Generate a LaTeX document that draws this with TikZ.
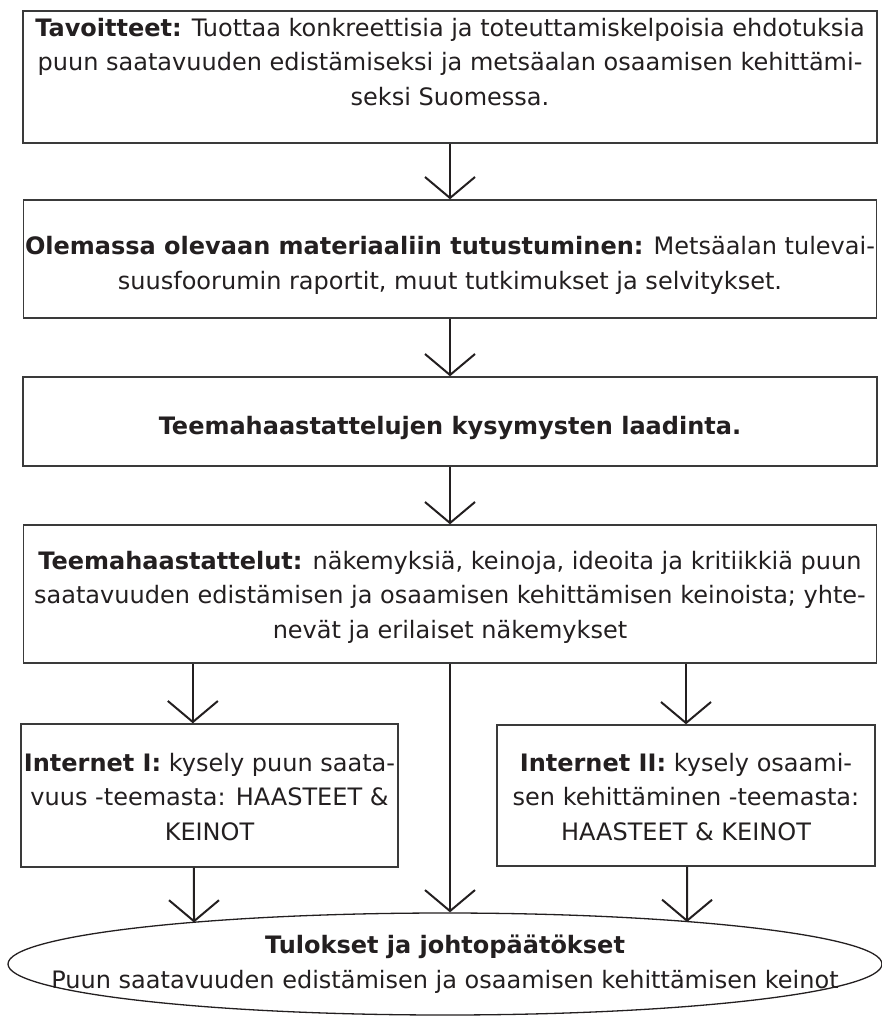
\documentclass[tikz,border=0pt]{standalone}
\usepackage{fontspec}
\setmainfont{DejaVu Sans}
\usetikzlibrary{arrows.meta,shapes.geometric,calc}
\definecolor{ink}{HTML}{231F20}
\definecolor{frame}{HTML}{3A3A3A}
\begin{document}
\begin{tikzpicture}[x=1pt,y=-1pt,
  box/.style={draw=frame,line width=1.4pt,rectangle,inner sep=0pt,fill=white},
  txt/.style={align=center,inner sep=0pt,text=ink,font=\fontsize{24}{34.5}\selectfont,anchor=base},
  arr/.style={draw=ink,line width=2pt,-{Straight Barb[length=21pt,width=50pt,line width=2pt]}}
]
\useasboundingbox (0,0) rectangle (882,1018);
% boxes
\node[box,minimum width=854pt,minimum height=132pt] (b1) at (450,77) {};
\node[box,minimum width=853pt,minimum height=118pt] (b2) at (450,259) {};
\node[box,minimum width=854pt,minimum height=89pt] (b3) at (450,421.5) {};
\node[box,minimum width=853pt,minimum height=138pt] (b4) at (450,594) {};
\node[box,minimum width=377pt,minimum height=143pt] (i1) at (209.5,795.5) {};
\node[box,minimum width=378pt,minimum height=141pt] (i2) at (686,795.5) {};
\node[draw=ink,line width=1.3pt,ellipse,inner sep=0pt,minimum width=874pt,minimum height=102pt] (res) at (445,964) {};
% texts (anchor base = last line's baseline)
\node[txt] (t1) at (450,105) {\textbf{Tavoitteet:} Tuottaa konkreettisia ja toteuttamiskelpoisia ehdotuksia\\ puun saatavuuden edistämiseksi ja metsäalan osaamisen kehittämi-\\ seksi Suomessa.};
\node[txt] (t2) at (450,289) {\textbf{Olemassa olevaan materiaaliin tutustuminen:} Metsäalan tulevai-\\ suusfoorumin raportit, muut tutkimukset ja selvitykset.};
\node[txt] (t3) at (450,434) {\textbf{Teemahaastattelujen kysymysten laadinta.}};
\node[txt] (t4) at (450,638) {\textbf{Teemahaastattelut:} näkemyksiä, keinoja, ideoita ja kritiikkiä puun\\ saatavuuden edistämisen ja osaamisen kehittämisen keinoista; yhte-\\ nevät ja erilaiset näkemykset};
\node[txt] (t5) at (209.5,840) {\textbf{Internet I:} kysely puun saata-\\ vuus -teemasta: HAASTEET \&\\ KEINOT};
\node[txt] (t6) at (686,840) {\textbf{Internet II:} kysely osaami-\\ sen kehittäminen -teemasta:\\ HAASTEET \& KEINOT};
\node[txt] (t7) at (445,988) {\textbf{Tulokset ja johtopäätökset}\\ Puun saatavuuden edistämisen ja osaamisen kehittämisen keinot};
% connector anchor points
\coordinate (i1in) at ($(i1.north west)!0.456!(i1.north east)$);
\coordinate (i2in) at (i2.north);
\coordinate (i1out) at ($(i1.south west)!0.459!(i1.south east)$);
\coordinate (i2out) at ($(i2.south west)!0.503!(i2.south east)$);
\coordinate (r1) at (194,922.5);
\coordinate (r2) at (687,922);
% connectors
\draw[arr] (b1.south) -- (b2.north);
\draw[arr] (b2.south) -- (b3.north);
\draw[arr] (b3.south) -- (b4.north);
\draw[arr] (b4.south -| i1in) -- (i1in);
\draw[arr] (b4.south -| i2in) -- (i2in);
\draw[arr] (b4.south) -- (b4.south |- res.north);
\draw[arr] (i1out) -- (r1);
\draw[arr] (i2out) -- (r2);
\end{tikzpicture}
\end{document}
